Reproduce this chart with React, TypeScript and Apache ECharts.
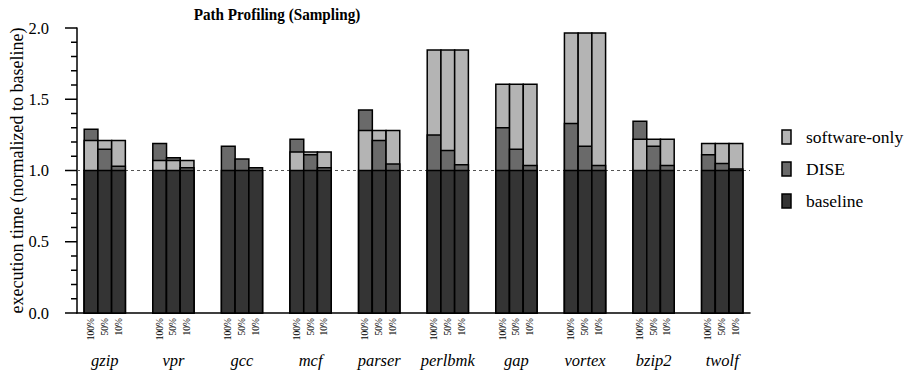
import React, { useEffect, useRef } from "react";
import * as echarts from "echarts";

const benchmarks = ["gzip", "vpr", "gcc", "mcf", "parser", "perlbmk", "gap", "vortex", "bzip2", "twolf"];
const samplingLabels = ["100%", "50%", "10%"];
const baseline = [1, 1, 1, 1, 1, 1, 1, 1, 1, 1];
const dise100 = [1.29, 1.19, 1.17, 1.22, 1.425, 1.25, 1.3, 1.33, 1.345, 1.11];
const dise50 = [1.15, 1.09, 1.08, 1.11, 1.21, 1.14, 1.15, 1.17, 1.17, 1.05];
const dise10 = [1.03, 1.02, 1.02, 1.02, 1.045, 1.04, 1.035, 1.035, 1.035, 1.01];
const sw100 = [1.21, 1.07, null, 1.13, 1.28, 1.845, 1.605, 1.965, 1.22, 1.19];
const sw50 = [1.21, 1.07, null, 1.13, 1.28, 1.845, 1.605, 1.965, 1.22, 1.19];
const sw10 = [1.21, 1.07, null, 1.13, 1.28, 1.845, 1.605, 1.965, 1.22, 1.19];
const yTicks = [0, 0.5, 1.0, 1.5, 2.0];
const yMinorTicks = [0.1, 0.2, 0.3, 0.4, 0.6, 0.7, 0.8, 0.9, 1.1, 1.2, 1.3, 1.4, 1.6, 1.7, 1.8, 1.9];
const legendItems = ["software-only", "DISE", "baseline"];

const X_MIN = -0.405;
const X_MAX = 9.405;
const C_BASE = "#343434";
const C_DISE = "#6a6a6a";
const C_SW = "#b4b4b4";
const legendColors = [C_SW, C_DISE, C_BASE];
const FONT = "'Liberation Serif', 'Times New Roman', serif";

export default function App() {
  const ref = useRef<HTMLDivElement>(null);
  useEffect(() => {
    document.body.style.margin = "0";
    if (!ref.current) return;
    const chart = echarts.init(ref.current, null, { renderer: "svg" });
    const diseSets = [dise100, dise50, dise10];
    const swSets = [sw100, sw50, sw10];
    const data: any[] = [];
    benchmarks.forEach((_, i) => {
      for (let j = 0; j < 3; j++) {
        const sw = swSets[j][i];
        data.push([i, j, baseline[i], diseSets[j][i], sw == null ? -1 : sw]);
      }
    });
    const tickData: any[] = [
      ...yTicks.map((v) => [X_MIN, v, 1]),
      ...yMinorTicks.map((v) => [X_MIN, v, 0]),
    ];
    const barHalf = 0.1;
    const legendGraphics: any[] = [];
    legendItems.forEach((name, k) => {
      const cy = 137 + k * 32;
      legendGraphics.push({
        type: "rect",
        shape: { x: 782, y: cy - 7, width: 9, height: 14 },
        style: { fill: legendColors[k], stroke: "#000", lineWidth: 1.5 },
      });
      legendGraphics.push({
        type: "text",
        x: 806,
        y: cy,
        style: {
          text: name,
          fontFamily: FONT,
          fontSize: 17.5,
          fill: "#000",
          textAlign: "left",
          textVerticalAlign: "middle",
        },
      });
    });
    const option: any = {
      animation: false,
      grid: { left: 77, right: 159, top: 28, bottom: 62, containLabel: false, outerBoundsMode: "none" },
      graphic: [
        {
          type: "text",
          x: 277,
          y: 14,
          scaleX: 0.92,
          style: {
            text: "Path Profiling (Sampling)",
            fontFamily: FONT,
            fontWeight: "bold",
            fontSize: 16.5,
            fill: "#000",
            textAlign: "center",
            textVerticalAlign: "middle",
          },
        },
        ...legendGraphics,
      ],
      xAxis: {
        type: "value",
        position: "bottom",
        min: X_MIN,
        max: X_MAX,
        axisLine: { show: true, onZero: false, lineStyle: { color: "#000", width: 1.5 } },
        axisTick: { show: false },
        axisLabel: { show: false },
        splitLine: { show: false },
      },
      yAxis: {
        type: "value",
        position: "left",
        min: 0,
        max: 2,
        interval: 0.5,
        name: "execution time (normalized to baseline)",
        nameLocation: "middle",
        nameGap: 51,
        nameMoveOverlap: false,
        nameTextStyle: { fontFamily: FONT, fontSize: 18, color: "#000" },
        axisLine: { show: true, onZero: false, lineStyle: { color: "#000", width: 1.5 } },
        axisTick: { show: false },
        axisLabel: {
          fontFamily: FONT,
          fontSize: 16.5,
          color: "#000",
          margin: 28,
          formatter: (v: number) => v.toFixed(1),
        },
        splitLine: { show: false },
      },
      series: [
        {
          type: "line",
          silent: true,
          symbol: "none",
          z: 1,
          data: [
            [X_MIN, 1],
            [X_MAX, 1],
          ],
          lineStyle: { color: "#555", width: 1, type: [3, 3] },
        },
        {
          type: "custom",
          silent: true,
          z: 4,
          clip: false,
          data: tickData,
          renderItem: (params: any, api: any) => {
            const p = api.coord([api.value(0), api.value(1)]);
            const len = api.value(2) === 1 ? 12 : 6;
            return {
              type: "line",
              shape: { x1: p[0] - len, y1: p[1], x2: p[0], y2: p[1] },
              style: { stroke: "#000", lineWidth: 1.5 },
            };
          },
        },
        {
          type: "custom",
          z: 3,
          clip: false,
          data,
          renderItem: (params: any, api: any) => {
            const i = api.value(0);
            const j = api.value(1);
            const base = api.value(2);
            const dise = api.value(3);
            const sw = api.value(4);
            const xc = i + (j - 1) * 0.2;
            const left = api.coord([xc - barHalf, 0])[0];
            const right = api.coord([xc + barHalf, 0])[0];
            const y0 = api.coord([xc, 0])[1];
            const layers: { v: number; c: string }[] = [{ v: dise, c: C_DISE }];
            if (sw > 0) layers.push({ v: sw, c: C_SW });
            layers.sort((a, b) => b.v - a.v);
            layers.push({ v: base, c: C_BASE });
            const children: any[] = layers.map((l) => {
              const yv = api.coord([xc, l.v])[1];
              return {
                type: "rect",
                shape: { x: left, y: yv, width: right - left, height: y0 - yv },
                style: { fill: l.c, stroke: "#000", lineWidth: 1.5 },
              };
            });
            children.push({
              type: "text",
              x: (left + right) / 2,
              y: y0 + 5,
              rotation: Math.PI / 2,
              style: {
                text: samplingLabels[j],
                fontFamily: FONT,
                fontSize: 9.5,
                fill: "#000",
                textAlign: "right",
                textVerticalAlign: "middle",
              },
            });
            if (j === 1) {
              children.push({
                type: "text",
                x: (left + right) / 2,
                y: y0 + 47,
                style: {
                  text: benchmarks[i],
                  fontFamily: FONT,
                  fontStyle: "italic",
                  fontSize: 16.5,
                  fill: "#000",
                  textAlign: "center",
                  textVerticalAlign: "middle",
                },
              });
            }
            return { type: "group", children };
          },
        },
      ],
    };
    chart.setOption(option);
    return () => chart.dispose();
  }, []);
  return <div ref={ref} style={{ width: 909, height: 375 }} />;
}
